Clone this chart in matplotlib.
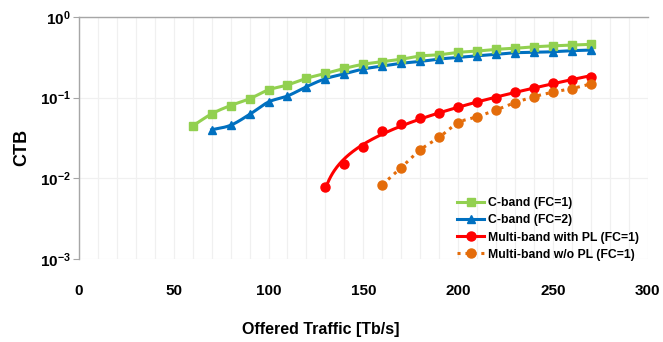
import numpy as np
import matplotlib
matplotlib.use("Agg")
import matplotlib.pyplot as plt
from matplotlib.ticker import FixedLocator, FuncFormatter, NullLocator
from matplotlib.lines import Line2D

plt.rcParams['font.family'] = ['Liberation Sans', 'DejaVu Sans']
plt.rcParams['font.weight'] = 'bold'
plt.rcParams['mathtext.fontset'] = 'custom'
plt.rcParams['mathtext.rm'] = 'Liberation Sans:bold'
plt.rcParams['mathtext.bf'] = 'Liberation Sans:bold'
plt.rcParams['mathtext.it'] = 'Liberation Sans:bold'

# ---- data ----
x_c1 = [60, 70, 80, 90, 100, 110, 120, 130, 140, 150, 160, 170, 180, 190, 200,
        210, 220, 230, 240, 250, 260, 270]
ctb_c1 = [0.0446, 0.063, 0.080, 0.097, 0.125, 0.144, 0.174, 0.200, 0.231, 0.26,
          0.28, 0.30, 0.329, 0.341, 0.365, 0.379, 0.398, 0.41, 0.428, 0.44, 0.45, 0.459]
x_c2 = [70, 80, 90, 100, 110, 120, 130, 140, 150, 160, 170, 180, 190, 200,
        210, 220, 230, 240, 250, 260, 270]
ctb_c2 = [0.040, 0.0455, 0.062, 0.0885, 0.105, 0.137, 0.172, 0.198, 0.227, 0.247,
          0.267, 0.282, 0.302, 0.316, 0.332, 0.345, 0.361, 0.365, 0.372, 0.383, 0.39]
x_mpl = [130, 140, 150, 160, 170, 180, 190, 200, 210, 220, 230, 240, 250, 260, 270]
ctb_mpl = [0.0079, 0.0149, 0.0247, 0.039, 0.047, 0.0555, 0.064, 0.0774, 0.089,
           0.100, 0.117, 0.133, 0.151, 0.166, 0.182]
x_mnopl = [160, 170, 180, 190, 200, 210, 220, 230, 240, 250, 260, 270]
ctb_mnopl = [0.0083, 0.0136, 0.0225, 0.0323, 0.049, 0.058, 0.0705, 0.0867,
             0.103, 0.117, 0.130, 0.148]

labels = ['C-band (FC=1)', 'C-band (FC=2)', 'Multi-band with PL (FC=1)',
          'Multi-band w/o PL (FC=1)']
colors = ['#92D050', '#0070C0', '#FF0000', '#E46C0A']


def catmull(x, y, n=12):
    """Smooth curve through points (in log-y space)."""
    x = np.asarray(x, float)
    ly = np.log10(np.asarray(y, float))
    P = np.column_stack([x, ly])
    P = np.vstack([2 * P[0] - P[1], P, 2 * P[-1] - P[-2]])
    out = []
    for i in range(1, len(P) - 2):
        p0, p1, p2, p3 = P[i - 1], P[i], P[i + 1], P[i + 2]
        t = np.linspace(0, 1, n, endpoint=False)[:, None]
        seg = 0.5 * ((2 * p1) + (-p0 + p2) * t + (2 * p0 - 5 * p1 + 4 * p2 - p3) * t ** 2
                     + (-p0 + 3 * p1 - 3 * p2 + p3) * t ** 3)
        out.append(seg)
    out.append(P[-2][None, :])
    S = np.vstack(out)
    return S[:, 0], 10 ** S[:, 1]


fig = plt.figure(figsize=(6.63, 3.42), dpi=100)
ax = fig.add_axes([0.119, 0.243, 0.858, 0.707])

# C-band FC=1
sx, sy = catmull(x_c1, ctb_c1)
ax.plot(sx, sy, color=colors[0], lw=2.2, zorder=3)
ax.plot(x_c1, ctb_c1, ls='none', marker='s', ms=6, color=colors[0], zorder=4)
# C-band FC=2
sx, sy = catmull(x_c2, ctb_c2)
ax.plot(sx, sy, color=colors[1], lw=2.2, zorder=3)
ax.plot(x_c2, ctb_c2, ls='none', marker='^', ms=6, color=colors[1], zorder=4)
# Multi-band with PL: fitted trend curve (log-shaped)
xa = np.array(x_mpl, float)
A = np.column_stack([np.ones_like(xa), np.log(xa - 126.0), xa])
coef, *_ = np.linalg.lstsq(A, np.log10(ctb_mpl), rcond=None)
fx = np.linspace(x_mpl[0], x_mpl[-1], 300)
fy = 10 ** (coef[0] + coef[1] * np.log(fx - 126.0) + coef[2] * fx)
ax.plot(fx, fy, color=colors[2], lw=2.2, zorder=3)
ax.plot(x_mpl, ctb_mpl, ls='none', marker='o', ms=6.5, color=colors[2], zorder=4)
# Multi-band w/o PL
sx, sy = catmull(x_mnopl, ctb_mnopl)
ax.plot(sx, sy, color=colors[3], lw=2.2, ls=(0, (1, 1.6)), zorder=3)
ax.plot(x_mnopl, ctb_mnopl, ls='none', marker='o', ms=6.5, color=colors[3], zorder=4)

handles = [
    Line2D([], [], color=colors[0], lw=2.2, marker='s', ms=6),
    Line2D([], [], color=colors[1], lw=2.2, marker='^', ms=6),
    Line2D([], [], color=colors[2], lw=2.2, marker='o', ms=6.5),
    Line2D([], [], color=colors[3], lw=2.2, marker='o', ms=6.5, ls=(0, (1, 1.6))),
]
leg = ax.legend(handles, labels, loc='lower right', bbox_to_anchor=(0.998, -0.038),
                frameon=False, fontsize=8.8, handlelength=2.2, labelspacing=0.42,
                handletextpad=0.35, borderaxespad=0.2)
for t in leg.get_texts():
    t.set_fontweight('bold')

ax.set_yscale('log')
ax.set_xlim(0, 300)
ax.set_ylim(1e-3, 1)
ax.xaxis.set_major_locator(FixedLocator([0, 50, 100, 150, 200, 250, 300]))
ax.xaxis.set_minor_locator(FixedLocator(np.arange(0, 301, 10)))
ax.yaxis.set_major_locator(FixedLocator([1e-3, 1e-2, 1e-1, 1]))
ax.yaxis.set_minor_locator(NullLocator())
ax.yaxis.set_major_formatter(FuncFormatter(lambda v, p: r'$\mathbf{10^{%d}}$' % int(round(np.log10(v)))))

ax.grid(True, which='minor', axis='x', color='#F0F0F0', lw=0.9)
ax.grid(True, which='major', axis='x', color='#F0F0F0', lw=0.9)
ax.grid(True, which='major', axis='y', color='#F0F0F0', lw=0.9)
ax.set_axisbelow(True)

for s in ['right', 'bottom']:
    ax.spines[s].set_visible(False)
ax.spines['left'].set_color('#A6A6A6')
ax.spines['top'].set_color('#A6A6A6')
ax.spines['left'].set_linewidth(1.0)
ax.spines['top'].set_linewidth(1.0)

ax.tick_params(axis='x', which='both', length=0, pad=18, labelsize=11)
ax.tick_params(axis='y', which='major', length=4, color='#A6A6A6', labelsize=11, pad=2)
for lab in ax.get_xticklabels() + ax.get_yticklabels():
    lab.set_fontweight('bold')

ax.set_xlabel('Offered Traffic [Tb/s]', fontsize=11.5, fontweight='bold')
ax.xaxis.set_label_coords(0.425, -0.262)
ax.set_ylabel('CTB', fontsize=13, fontweight='bold')
ax.yaxis.set_label_coords(-0.086, 0.459)

fig.savefig('out.png', dpi=100)
